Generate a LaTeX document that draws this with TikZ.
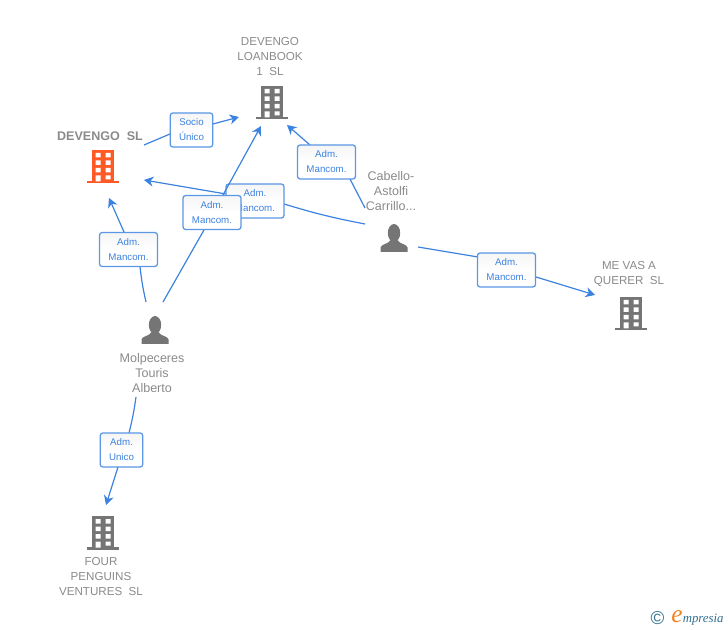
\documentclass[tikz,border=0pt]{standalone}
\usepackage{fontspec}
\setmainfont{Liberation Sans}
\newfontfamily\logofont{Liberation Serif}
\usetikzlibrary{arrows.meta,positioning}
\definecolor{linkblue}{HTML}{3C82E0}
\definecolor{boxblue}{HTML}{5B97E5}
\definecolor{iconfill}{HTML}{757575}
\definecolor{iconred}{HTML}{FF5A26}
\definecolor{labelgray}{HTML}{8A8A8A}
\definecolor{logoteal}{HTML}{2F6F8F}
\definecolor{logoorange}{HTML}{F58220}
\tikzset{
	conn/.style={draw=linkblue,line width=0.9pt},
	connto/.style={conn,-{Stealth[length=7pt,width=7.5pt,inset=2.2pt]}},
	rolebox/.style={draw=boxblue,line width=0.95pt,rounded corners=2pt,top color=black!4,bottom color=white,middle color=white,
		text=linkblue,font=\fontsize{7.3}{11.25}\selectfont,align=center,inner sep=0pt,minimum height=25.5pt},
	firmname/.style={text=labelgray,font=\fontsize{8.7}{11.25}\selectfont,align=center,inner sep=0pt},
	personname/.style={text=labelgray,font=\fontsize{9.4}{11.25}\selectfont,align=center,inner sep=0pt},
}
\begin{document}
\begin{tikzpicture}[y=-0.75pt,x=0.75pt]
	\newcommand\Building[2]{
		\fill[#2] (#1) +(-11,-16) rectangle +(11,15);
		\fill[#2] (#1) +(-16,15) rectangle +(16,17.5);
		\fill[white] (#1) +(-7.5,-13) rectangle +(-2.5,-8.5) +(2.5,-13) rectangle +(7.5,-8.5);
		\fill[white] (#1) +(-7.5,-5.5) rectangle +(-2.5,-1) +(2.5,-5.5) rectangle +(7.5,-1);
		\fill[white] (#1) +(-7.5,2) rectangle +(-2.5,6.5) +(2.5,2) rectangle +(7.5,6.5);
		\fill[white] (#1) +(-7.5,9.5) rectangle +(-2.5,15.5) +(2.5,9.5) rectangle +(7.5,13.5);
	}
	\newcommand\Person[1]{
		\begin{scope}[shift={(#1)}]
			\fill[iconfill] (0,-5) ellipse (6.2 and 9);
			\fill[iconfill] (-13.5,14) -- (-13.5,9.5) .. controls (-13,6) and (-5,6) .. (-3.5,2) -- (3.5,2) .. controls (5,6) and (13,6) .. (13.5,9.5) -- (13.5,14) -- cycle;
		\end{scope}
	}

	% entities
	\Building{272,102}{iconfill}
	\Building{103,166}{iconred}
	\Building{631,313}{iconfill}
	\Building{103,532}{iconfill}
	\Person{394,238}
	\Person{155,330}

	\node[firmname] (loanbook) at (270,57) {DEVENGO\\LOANBOOK\\1\ \ SL};
	\node[firmname,font=\fontsize{9.4}{11.25}\selectfont\bfseries] (devengo) at (100,136) {DEVENGO\ \ SL};
	\node[firmname] (mevas) at (629,274.5) {ME VAS A\\QUERER\ \ SL};
	\node[firmname] (four) at (101,577) {FOUR\\PENGUINS\\VENTURES\ \ SL};
	\node[personname] (cabello) at (391,191) {Cabello-\\Astolfi\\Carrillo...};
	\node[personname] (molpeceres) at (152,373) {Molpeceres\\Touris\\Alberto};

	% free ends
	\coordinate (devengoA) at (144,145);
	\coordinate (loanbookA) at (239,117);
	\coordinate (loanbookB) at (261,126);
	\coordinate (loanbookC) at (287,125);
	\coordinate (devengoB) at (144,180);
	\coordinate (devengoC) at (109,198);
	\coordinate (cabelloA) at (365,224);
	\coordinate (cabelloB) at (365,208);
	\coordinate (cabelloC) at (418,247);
	\coordinate (mevasA) at (595,295);
	\coordinate (molpeA) at (163,302);
	\coordinate (molpeB) at (146,302);
	\coordinate (molpeC) at (136,397);
	\coordinate (fourA) at (106,505);

	% links and their boxes
	\draw[conn] (cabelloA) to[bend left=3] (284,204);
	\draw[connto] (226,194) -- (devengoB);
	\node[rolebox,minimum width=43.5pt] (admB) at (255,201) {Adm.\\Mancom.};

	\draw[conn] (molpeA) -- (204,230);
	\draw[connto] (223,195) -- (loanbookB);
	\node[rolebox,minimum width=43.5pt] (admA) at (212,212.5) {Adm.\\Mancom.};

	\draw[conn] (devengoA) -- (170,134);
	\draw[connto] (213,124) -- (loanbookA);
	\node[rolebox,minimum width=32pt] (socio) at (191.5,130) {Socio\\Único};

	\draw[conn] (cabelloB) -- (350,179);
	\draw[connto] (310,145) -- (loanbookC);
	\node[rolebox,minimum width=43.5pt] (admC) at (326.5,162) {Adm.\\Mancom.};

	\draw[conn] (molpeB) to[bend left=3] (140,267);
	\draw[connto] (124,232) -- (devengoC);
	\node[rolebox,minimum width=43.5pt] (admD) at (128.5,249.5) {Adm.\\Mancom.};

	\draw[conn] (cabelloC) -- (478,257);
	\draw[connto] (536,277) -- (mevasA);
	\node[rolebox,minimum width=43.5pt] (admE) at (506.5,270) {Adm.\\Mancom.};

	\draw[conn] (molpeC) to[bend left=3] (129,433);
	\draw[connto] (118,467) -- (fourA);
	\node[rolebox,minimum width=32pt] (admF) at (121.5,450) {Adm.\\Unico};

	% logo
	\node[text=logoteal,inner sep=0pt,font=\fontsize{14}{14}\selectfont] (logoC) at (657.5,618) {©};
	\node[text=logoorange,inner sep=0pt,font=\fontsize{19}{19}\logofont\itshape] (logoE) at (677,617) {e};
	\node[text=logoteal,inner sep=0pt,anchor=base west,font=\fontsize{9.6}{12}\logofont\itshape] (logoT) at (682.5,622) {mpresia};

	\useasboundingbox (0,0) rectangle (728,630);
\end{tikzpicture}
\end{document}
